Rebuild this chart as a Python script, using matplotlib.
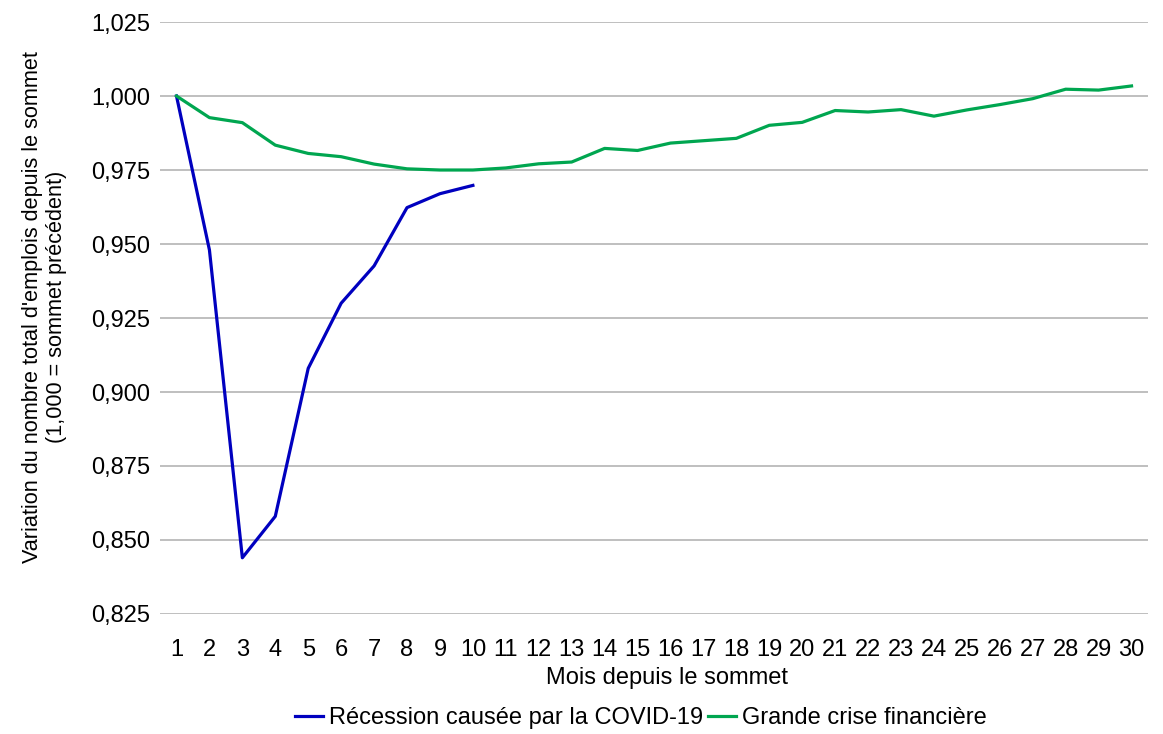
import matplotlib
matplotlib.use('Agg')
import matplotlib.pyplot as plt
from matplotlib.ticker import FuncFormatter

plt.rcParams['font.family'] = ['Liberation Sans', 'DejaVu Sans']

mois = list(range(1, 31))
covid = [1.000, 0.948, 0.844, 0.858, 0.908, 0.930, 0.9426, 0.9623, 0.967, 0.9698]
gfc = [1.000, 0.9927, 0.991, 0.9834, 0.9806, 0.9795, 0.977, 0.9754, 0.975, 0.975,
       0.9757, 0.9771, 0.9777, 0.9823, 0.9816, 0.9841, 0.9849, 0.9857, 0.9901, 0.9911,
       0.9951, 0.9946, 0.9954, 0.9932, 0.9953, 0.9971, 0.9991, 1.0023, 1.002, 1.0034]

fig = plt.figure(figsize=(11.63, 7.34), dpi=100)
ax = fig.add_axes([0.1376, 0.1635, 0.8495, 0.8065])

ax.plot(mois[:len(covid)], covid, color='#0000BF', lw=2.3, label='Récession causée par la COVID-19')
ax.plot(mois, gfc, color='#00A650', lw=2.3, label='Grande crise financière')

ax.set_xlim(0.5, 30.5)
ax.set_ylim(0.825, 1.025)
ax.set_xticks(mois)
ax.set_yticks([0.825 + 0.025 * i for i in range(9)])
ax.yaxis.set_major_formatter(FuncFormatter(lambda v, p: f'{v:.3f}'.replace('.', ',')))
ax.tick_params(length=0, labelsize=17, colors='black')
ax.tick_params(axis='x', pad=18)
ax.tick_params(axis='y', pad=7)
ax.grid(axis='y', color='#BFBFBF', lw=1.4)
ax.set_axisbelow(True)
for s in ax.spines.values():
    s.set_visible(False)

ax.set_xlabel('Mois depuis le sommet', fontsize=17)
ax.xaxis.set_label_coords(0.513, -0.089)
ax.set_ylabel("Variation du nombre total d'emplois depuis le sommet\n(1,000 = sommet précédent)",
              fontsize=15.6)
ax.yaxis.set_label_coords(-0.094, 0.518)

fig.legend(loc='center', bbox_to_anchor=(0.551, 0.022), ncol=2, frameon=False, fontsize=17,
           handlelength=1.2, handletextpad=0.25, columnspacing=0.2)

fig.savefig('out.png', dpi=100)
